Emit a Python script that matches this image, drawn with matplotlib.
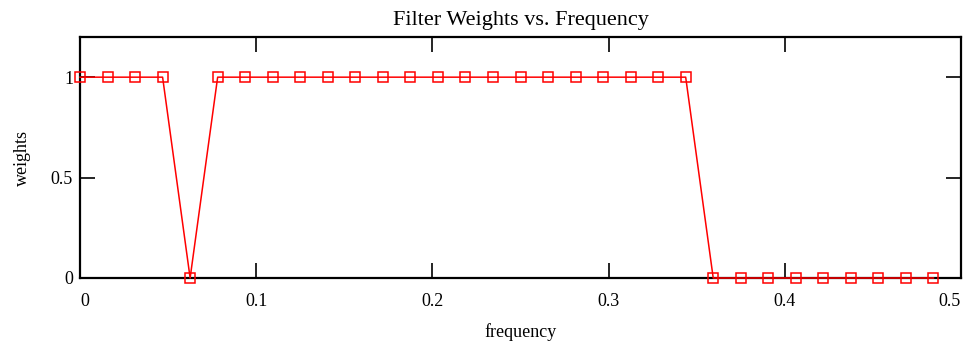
import matplotlib
matplotlib.use('Agg')
import matplotlib.pyplot as plt
import numpy as np

# dati: 32 campioni di frequenza k/64
freq = np.arange(32) / 64.0
weights = [1, 1, 1, 1, 0, 1, 1, 1, 1, 1, 1, 1, 1, 1, 1, 1,
           1, 1, 1, 1, 1, 1, 1, 0, 0, 0, 0, 0, 0, 0, 0, 0]
x_ticks = [0, 0.1, 0.2, 0.3, 0.4, 0.5]
x_labels = ["0", "0.1", "0.2", "0.3", "0.4", "0.5"]
y_ticks = [0, 0.5, 1]
y_labels = ["0", "0.5", "1"]

plt.rcParams['font.family'] = ['Liberation Serif', 'DejaVu Serif']

fig = plt.figure(figsize=(9.68, 3.45), dpi=100)
ax = fig.add_axes([80/968, 1 - 278/345, 881/968, 241/345])

ax.plot(freq, weights, color='red', lw=1.1, marker='s', markersize=7.2,
        markerfacecolor='none', markeredgecolor='red', markeredgewidth=1.1,
        clip_on=False, zorder=3)

ax.set_xlim(0, 0.5)
ax.set_ylim(0, 1.2)
ax.set_xticks(x_ticks)
ax.set_yticks(y_ticks)
ax.set_xticklabels(x_labels, fontsize=13)
ax.set_yticklabels(y_labels, fontsize=13)
ax.tick_params(direction='in', length=11, width=1.2, top=True, right=True,
               colors='black')
ax.tick_params(axis='x', pad=11)
ax.tick_params(axis='y', pad=5)

# etichette alle estremità allineate come nell'originale
xl = ax.get_xticklabels()
xl[0].set_ha('left')
xl[-1].set_ha('right')

for s in ax.spines.values():
    s.set_linewidth(1.6)

ax.set_title("Filter Weights vs. Frequency", fontsize=16, pad=9)
ax.set_xlabel("frequency", fontsize=13, labelpad=9)
ax.set_ylabel("weights", fontsize=13, labelpad=14)

fig.savefig("out.png", dpi=100)
